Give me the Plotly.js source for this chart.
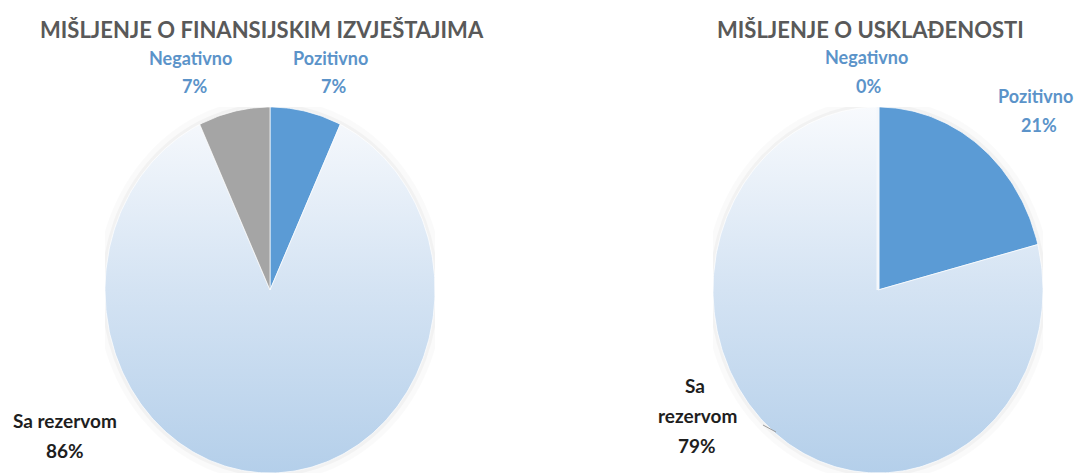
<!DOCTYPE html>
<html>
<head>
<meta charset="utf-8">
<script src="https://cdn.plot.ly/plotly-3.0.1.min.js"></script>
<style>html,body{margin:0;padding:0;background:#fff;}#chart{width:1077px;height:475px;}</style>
</head>
<body>
<div id="chart"></div>
<script>
// ---- data ----
const leftTitle = 'MIŠLJENJE O FINANSIJSKIM IZVJEŠTAJIMA';
const rightTitle = 'MIŠLJENJE O USKLAĐENOSTI';
const categories = ['Pozitivno', 'Sa rezervom', 'Negativno'];
const leftValues = [7, 86, 7];
const rightValues = [21, 79, 0];

// ---- styling ----
const W = 1077, H = 475;
const sliceColors = ['#5b9bd5', null, '#a5a5a5'];
const gradient = {type: 'vertical', start: -1, stop: 1, colorscale: [[0, '#b4cfea'], [0.5, '#d4e3f3'], [1, '#f8fafd']]};
const FONT = 'Lato, "Open Sans", sans-serif';
const px = x => x / W;
const py = y => 1 - y / H;

function wedgeTraces(values, xa, ya) {
  const total = values.reduce((a, b) => a + b, 0);
  let cum = 0;
  const traces = [];
  values.forEach((v, i) => {
    const f0 = cum / total, f1 = (cum + v) / total;
    cum += v;
    const xs = [0], ys = [0];
    const n = Math.max(2, Math.ceil((f1 - f0) * 360));
    for (let k = 0; k <= n; k++) {
      const f = f0 + (f1 - f0) * k / n;
      const th = Math.PI / 2 - 2 * Math.PI * f;
      xs.push(Math.cos(th));
      ys.push(Math.sin(th));
    }
    xs.push(0); ys.push(0);
    const t = {
      type: 'scatter', mode: 'lines', x: xs, y: ys, xaxis: xa, yaxis: ya,
      fill: 'toself', name: categories[i], hoverinfo: 'name',
      line: {color: v === 0 ? '#f4f7fb' : 'rgba(255,255,255,0.7)', width: v === 0 ? 3 : 1},
      showlegend: false
    };
    if (sliceColors[i]) t.fillcolor = sliceColors[i];
    else { t.fillcolor = '#d4e3f3'; t.fillgradient = gradient; }
    traces.push(t);
  });
  return traces;
}

const data = [...wedgeTraces(leftValues, 'x', 'y'), ...wedgeTraces(rightValues, 'x2', 'y2')];

const axisBase = {range: [-1, 1], visible: false, showgrid: false, zeroline: false, fixedrange: true};
const yDom = [py(473), py(107)];

function halo(xref, yref) {
  return [
    {type: 'circle', xref, yref, x0: -1.02, x1: 1.02, y0: -1.02, y1: 1.02, layer: 'below', line: {color: 'rgba(0,0,0,0.02)', width: 10}},
    {type: 'circle', xref, yref, x0: -1.008, x1: 1.008, y0: -1.008, y1: 1.008, layer: 'below', line: {color: 'rgba(0,0,0,0.03)', width: 4}}
  ];
}

const blue = '#5b93c9';
const dark = '#1e1e1e';
function lab(text, x, y, color, size) {
  return {xref: 'paper', yref: 'paper', x: px(x), y: py(y), text, showarrow: false,
    xanchor: 'center', yanchor: 'middle', font: {family: FONT, size: size || 18, color, weight: 'bold'}};
}

const annotations = [
  lab(leftTitle, 262, 30, '#595959', 22),
  lab(rightTitle, 870, 30, '#595959', 22),
  lab(categories[2], 190, 58, blue), lab(leftValues[2] + '%', 195, 86, blue),
  lab(categories[0], 330, 58, blue), lab(leftValues[0] + '%', 333, 86, blue),
  lab('Sa rezervom', 65, 420, dark, 19), lab(leftValues[1] + '%', 65, 450, dark, 19),
  lab(categories[2], 866, 57, blue), lab(rightValues[2] + '%', 868, 86, blue),
  lab(categories[0], 1035, 96, blue), lab(rightValues[0] + '%', 1039, 125, blue),
  lab('Sa', 695, 385, dark, 19), lab('rezervom', 697, 415, dark, 19), lab(rightValues[1] + '%', 697, 445, dark, 19)
];

const layout = {
  width: W, height: H,
  margin: {l: 0, r: 0, t: 0, b: 0},
  paper_bgcolor: '#ffffff', plot_bgcolor: 'rgba(0,0,0,0)',
  showlegend: false,
  xaxis: Object.assign({}, axisBase, {domain: [px(105), px(435)]}),
  yaxis: Object.assign({}, axisBase, {domain: yDom}),
  xaxis2: Object.assign({}, axisBase, {domain: [px(713), px(1043)]}),
  yaxis2: Object.assign({}, axisBase, {domain: yDom}),
  shapes: [...halo('x', 'y'), ...halo('x2', 'y2'),
    {type: 'line', xref: 'paper', yref: 'paper', x0: px(763), y0: py(425), x1: px(776), y1: py(432), line: {color: '#9a9a9a', width: 1}}],
  annotations
};

Plotly.newPlot('chart', data, layout, {displayModeBar: false, staticPlot: true});
</script>
</body>
</html>
